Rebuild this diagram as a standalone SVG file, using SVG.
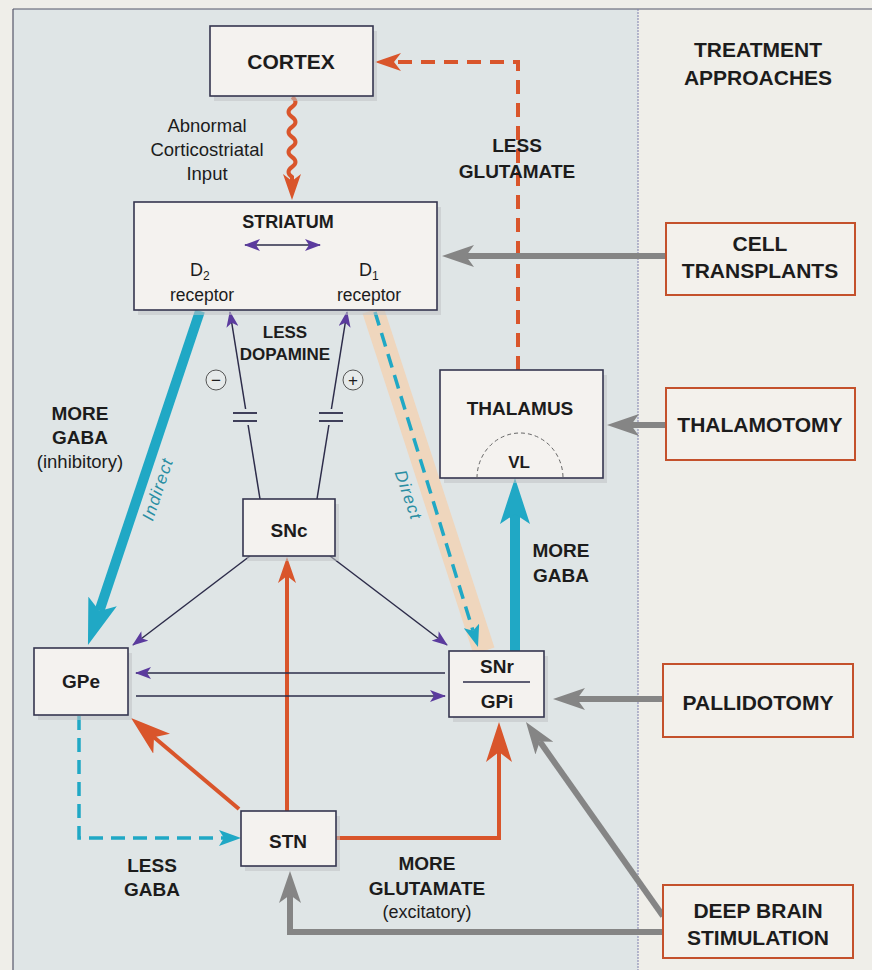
<svg xmlns="http://www.w3.org/2000/svg" width="872" height="970" viewBox="0 0 872 970">
<defs>
<style>
text{font-family:"Liberation Sans",Arial,sans-serif;fill:#1c1c1c}
.b{font-weight:bold;text-anchor:middle}
.r{text-anchor:middle}
.box{fill:#f4f2ef;stroke:#35354f;stroke-width:1.6}
.tbox{fill:#f3f1ec;stroke:#c4512c;stroke-width:2}
.sh{fill:#bfc3c4;opacity:.55}
.pur{stroke:#2d2c4a;stroke-width:1.5;fill:none}
.or{stroke:#d9552b;stroke-width:4;fill:none}
.teal{stroke:#20a8c5;fill:none}
.gray{stroke:#858585;stroke-width:6;fill:none}
</style>
<marker id="mPur" markerUnits="userSpaceOnUse" viewBox="0 0 16 12" markerWidth="16" markerHeight="12" refX="15" refY="6" orient="auto-start-reverse"><path d="M0,0 L16,6 L0,12 L4,6 Z" fill="#5b3b9e"/></marker>
<marker id="mOr" markerUnits="userSpaceOnUse" viewBox="0 0 26 18" markerWidth="26" markerHeight="18" refX="7" refY="9" orient="auto"><path d="M0,0 L26,9 L0,18 L7,9 Z" fill="#d9552b"/></marker>
<marker id="mOrB" markerUnits="userSpaceOnUse" viewBox="0 0 40 26" markerWidth="40" markerHeight="26" refX="10" refY="13" orient="auto"><path d="M0,0 L40,13 L0,26 L10,13 Z" fill="#d9552b"/></marker>
<marker id="mTealB" markerUnits="userSpaceOnUse" viewBox="0 0 46 30" markerWidth="46" markerHeight="30" refX="10" refY="15" orient="auto"><path d="M0,0 L46,15 L0,30 L10,15 Z" fill="#20a8c5"/></marker>
<marker id="mTealS" markerUnits="userSpaceOnUse" viewBox="0 0 22 16" markerWidth="22" markerHeight="16" refX="5" refY="8" orient="auto"><path d="M0,0 L22,8 L0,16 L5,8 Z" fill="#20a8c5"/></marker>
<marker id="mGray" markerUnits="userSpaceOnUse" viewBox="0 0 32 22" markerWidth="32" markerHeight="22" refX="8" refY="11" orient="auto"><path d="M0,0 L32,11 L0,22 L8,11 Z" fill="#858585"/></marker>
</defs>

<!-- background -->
<rect x="0" y="0" width="872" height="970" fill="#efeee9"/>
<rect x="13" y="9" width="625" height="961" fill="#dfe5e6"/>
<line x1="13" y1="9" x2="872" y2="9" stroke="#55566a" stroke-width="1.2"/>
<line x1="13" y1="9" x2="13" y2="970" stroke="#55566a" stroke-width="1.2"/>
<line x1="638" y1="9" x2="638" y2="970" stroke="#7f7fae" stroke-width="1" stroke-dasharray="2 1"/>

<g id="connectors">
  <!-- direct band -->
  <line x1="373" y1="310" x2="484" y2="651" stroke="#efd6bd" stroke-width="22"/>
  <!-- indirect -->
  <line class="teal" x1="200" y1="311" x2="99.4" y2="610.9" stroke-width="10" marker-end="url(#mTealB)"/>
  <!-- SNr to thalamus -->
  <line class="teal" x1="515" y1="651" x2="515" y2="514" stroke-width="10" marker-end="url(#mTealB)"/>
  <!-- direct dashed -->
  <line class="teal" x1="375" y1="312" x2="473" y2="630.7" stroke-width="3.5" stroke-dasharray="14 8" marker-end="url(#mTealS)"/>
  <!-- less GABA dashed -->
  <path class="teal" d="M79,716 V838 H224" stroke-width="3.5" stroke-dasharray="14 8" marker-end="url(#mTealS)"/>
  <!-- wavy cortex->striatum -->
  <path class="or" stroke-width="3" d="M292,97 q7,5 0,10 q-7,5 0,10 q7,5 0,10 q-7,5 0,10 q7,5 0,10 q-7,5 0,10 q7,5 0,10 q-7,5 0,10 L292,181" marker-end="url(#mOr)"/>
  <!-- thalamus -> cortex dashed -->
  <path class="or" stroke-width="3.5" d="M518,370 V62 H394" stroke-dasharray="14 9" marker-end="url(#mOr)"/>
  <!-- STN -> SNc -->
  <line class="or" x1="287" y1="811" x2="287" y2="576" marker-end="url(#mOr)"/>
  <!-- STN -> GPe -->
  <line class="or" x1="239" y1="809" x2="154" y2="737.3" marker-end="url(#mOrB)"/>
  <!-- STN -> GPi -->
  <path class="or" d="M336,838 H499 V752" marker-end="url(#mOrB)"/>
  <!-- dopamine paths -->
  <line class="pur" x1="260" y1="499" x2="248.1" y2="425"/>
  <line class="pur" x1="245.6" y1="409" x2="230" y2="312" marker-end="url(#mPur)"/>
  <line class="pur" x1="317" y1="499" x2="328.9" y2="425"/>
  <line class="pur" x1="331.4" y1="409" x2="347" y2="312" marker-end="url(#mPur)"/>
  <g stroke="#2d2c4a" stroke-width="1.8">
    <line x1="233" y1="413" x2="257" y2="413"/><line x1="233" y1="421" x2="257" y2="421"/>
    <line x1="319" y1="413" x2="343" y2="413"/><line x1="319" y1="421" x2="343" y2="421"/>
  </g>
  <line class="pur" x1="250" y1="556" x2="133" y2="645" marker-end="url(#mPur)"/>
  <line class="pur" x1="330" y1="556" x2="447" y2="645" marker-end="url(#mPur)"/>
  <line class="pur" x1="445" y1="673" x2="136" y2="673" marker-end="url(#mPur)"/>
  <line class="pur" x1="136" y1="696" x2="445" y2="696" marker-end="url(#mPur)"/>
  <!-- treatment arrows -->
  <line class="gray" x1="666" y1="256" x2="466" y2="256" marker-end="url(#mGray)"/>
  <line class="gray" x1="666" y1="425" x2="631" y2="425" marker-end="url(#mGray)"/>
  <line class="gray" x1="663" y1="699" x2="577" y2="699" marker-end="url(#mGray)"/>
  <line class="gray" x1="663" y1="916" x2="539.8" y2="741.6" marker-end="url(#mGray)"/>
  <path class="gray" d="M663,932 H290 V895" marker-end="url(#mGray)"/>
</g>

<g id="cortex">
  <rect class="sh" x="214" y="31" width="163" height="70"/>
  <rect class="box" x="210" y="26" width="163" height="70"/>
  <text class="b" x="291" y="69" font-size="21">CORTEX</text>
</g>
<g id="cortex-label">
  <text class="r" x="207" y="132" font-size="18.5">Abnormal</text>
  <text class="r" x="207" y="156" font-size="18.5">Corticostriatal</text>
  <text class="r" x="207" y="180" font-size="18.5">Input</text>
</g>
<g id="glutamate-label">
  <text class="b" x="517" y="152" font-size="19">LESS</text>
  <text class="b" x="517" y="178" font-size="19">GLUTAMATE</text>
</g>

<g id="striatum">
  <rect class="sh" x="138" y="207" width="303" height="108"/>
  <rect class="box" x="134" y="202" width="303" height="108"/>
  <text class="b" x="288" y="228" font-size="18">STRIATUM</text>
  <line class="pur" x1="245" y1="245" x2="320" y2="245" marker-start="url(#mPur)" marker-end="url(#mPur)"/>
  <text x="190" y="276" font-size="18">D<tspan font-size="12" dy="4">2</tspan></text>
  <text class="r" x="202" y="301" font-size="17.5">receptor</text>
  <text x="359" y="276" font-size="18">D<tspan font-size="12" dy="4">1</tspan></text>
  <text class="r" x="369" y="301" font-size="17.5">receptor</text>
</g>

<g id="dopamine">
  <text class="b" x="285" y="338" font-size="17">LESS</text>
  <text class="b" x="285" y="360" font-size="17">DOPAMINE</text>
  <circle cx="216" cy="380" r="10" fill="#e6eaea" stroke="#555" stroke-width="1"/>
  <text class="r" x="216" y="386" font-size="17">−</text>
  <circle cx="353" cy="380" r="10" fill="#e6eaea" stroke="#555" stroke-width="1"/>
  <text class="r" x="353" y="386" font-size="17">+</text>
</g>

<g id="indirect-label">
  <text class="b" x="80" y="420" font-size="19">MORE</text>
  <text class="b" x="80" y="444" font-size="19">GABA</text>
  <text class="r" x="80" y="468" font-size="18.5">(inhibitory)</text>
  <text class="r" transform="translate(163,491) rotate(-71.5)" font-size="17" font-style="italic" letter-spacing="1.2" style="fill:#2a8ea3">Indirect</text>
  <text class="r" transform="translate(403,497) rotate(71)" font-size="17" font-style="italic" letter-spacing="1.2" style="fill:#2a8ea3">Direct</text>
</g>

<g id="thalamus">
  <rect class="sh" x="444" y="375" width="163" height="108"/>
  <rect class="box" x="440" y="370" width="163" height="108"/>
  <text class="b" x="520" y="415" font-size="19">THALAMUS</text>
  <path d="M477,478 A43,45 0 0 1 563,478" fill="none" stroke="#666" stroke-width="1" stroke-dasharray="4 3"/>
  <text class="b" x="519" y="468" font-size="17">VL</text>
</g>
<g id="more-gaba-label">
  <text class="b" x="561" y="557" font-size="19">MORE</text>
  <text class="b" x="561" y="582" font-size="19">GABA</text>
</g>

<g id="snc">
  <rect class="sh" x="247" y="504" width="92" height="57"/>
  <rect class="box" x="243" y="499" width="92" height="57"/>
  <text class="b" x="289" y="537" font-size="19">SNc</text>
</g>

<g id="gpe">
  <rect class="sh" x="38" y="653" width="94" height="67"/>
  <rect class="box" x="34" y="648" width="94" height="67"/>
  <text class="b" x="81" y="688" font-size="19">GPe</text>
</g>

<g id="snr-gpi">
  <rect class="sh" x="453" y="656" width="95" height="66"/>
  <rect class="box" x="449" y="651" width="95" height="66"/>
  <text class="b" x="497" y="673" font-size="19">SNr</text>
  <line x1="463" y1="682" x2="530" y2="682" stroke="#2d2c4a" stroke-width="1.5"/>
  <text class="b" x="497" y="708" font-size="19">GPi</text>
</g>

<g id="stn">
  <rect class="sh" x="245" y="816" width="95" height="55"/>
  <rect class="box" x="241" y="811" width="95" height="55"/>
  <text class="b" x="288" y="848" font-size="19">STN</text>
</g>

<g id="less-gaba-label">
  <text class="b" x="152" y="872" font-size="19">LESS</text>
  <text class="b" x="152" y="896" font-size="19">GABA</text>
</g>
<g id="more-glutamate-label">
  <text class="b" x="427" y="870" font-size="19">MORE</text>
  <text class="b" x="427" y="895" font-size="19">GLUTAMATE</text>
  <text class="r" x="427" y="918" font-size="18">(excitatory)</text>
</g>

<g id="treatment-title">
  <text class="b" x="758" y="57" font-size="21">TREATMENT</text>
  <text class="b" x="758" y="85" font-size="21">APPROACHES</text>
</g>
<g id="cell-transplants">
  <rect class="tbox" x="666" y="223" width="189" height="72"/>
  <text class="b" x="760" y="251" font-size="21">CELL</text>
  <text class="b" x="760" y="278" font-size="21">TRANSPLANTS</text>
</g>
<g id="thalamotomy">
  <rect class="tbox" x="666" y="388" width="189" height="72"/>
  <text class="b" x="760" y="432" font-size="21">THALAMOTOMY</text>
</g>
<g id="pallidotomy">
  <rect class="tbox" x="663" y="664" width="190" height="73"/>
  <text class="b" x="758" y="710" font-size="21">PALLIDOTOMY</text>
</g>
<g id="deep-brain-stimulation">
  <rect class="tbox" x="663" y="885" width="190" height="73"/>
  <text class="b" x="758" y="918" font-size="21">DEEP BRAIN</text>
  <text class="b" x="758" y="945" font-size="21">STIMULATION</text>
</g>
</svg>
